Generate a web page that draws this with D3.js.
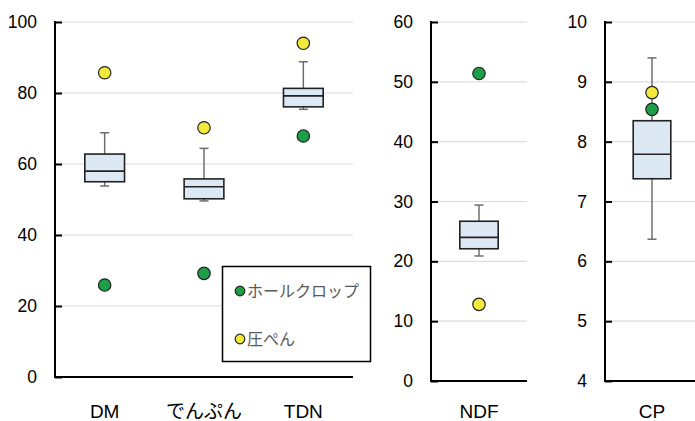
<!DOCTYPE html>
<html><head><meta charset="utf-8">
<script src="https://cdn.jsdelivr.net/npm/d3@7"></script>
<style>
html,body{margin:0;padding:0;background:#fff;}
text{font-family:"Liberation Sans",Arial,"Noto Sans CJK JP",sans-serif;}
</style></head>
<body>
<svg id="c" width="695" height="421"></svg>
<script>
// ---- data ----
const categories   = ["DM", "でんぷん", "TDN", "NDF", "CP"];
const whiskerLow   = [53.8, 49.6, 75.4, 20.9, 6.37];
const q1           = [55.0, 50.2, 76.1, 22.1, 7.38];
const median       = [58.0, 53.6, 79.2, 24.0, 7.79];
const q3           = [62.8, 55.8, 81.3, 26.7, 8.35];
const whiskerHigh  = [68.8, 64.4, 88.8, 29.4, 9.40];
const wholeCrop    = [25.9, 29.2, 67.9, 51.4, 8.54];
const atsupen      = [85.7, 70.2, 94.0, 12.8, 8.82];
const seriesNames  = ["ホールクロップ", "圧ぺん"];
const panelCats    = [["DM", "でんぷん", "TDN"], ["NDF"], ["CP"]];
const panelTicks   = [[0, 20, 40, 60, 80, 100], [0, 10, 20, 30, 40, 50, 60], [4, 5, 6, 7, 8, 9, 10]];

// ---- layout ----
const svg = d3.select("#c");
const panelLayout = [
  {x0: 55, x1: 353, yb: 377, yt: 22},
  {x0: 431, x1: 527, yb: 381, yt: 22},
  {x0: 605, x1: 699, yb: 381, yt: 22}
];
const green = "#1d9e48", yellow = "#f3e93b";

panelCats.forEach((cats, p) => {
  const L = panelLayout[p];
  const ticks = panelTicks[p];
  const x = d3.scaleBand().domain(cats).range([L.x0, L.x1]);
  const y = d3.scaleLinear().domain([ticks[0], ticks[ticks.length - 1]]).range([L.yb, L.yt]);
  const g = svg.append("g");

  // gridlines
  g.append("g").selectAll("line").data(ticks.slice(1)).join("line")
    .attr("x1", L.x0).attr("x2", L.x1)
    .attr("y1", d => y(d)).attr("y2", d => y(d))
    .attr("stroke", "#dcdcdc").attr("stroke-width", 1.2);

  // y axis (inward ticks)
  const ya = g.append("g").attr("transform", `translate(${L.x0},0)`)
    .call(d3.axisRight(y).tickValues(ticks).tickSize(7).tickFormat(d3.format("d")));
  ya.select(".domain").remove();
  ya.selectAll(".tick line").attr("stroke", "#000").attr("stroke-width", 2);
  ya.selectAll(".tick text").attr("x", -18).attr("text-anchor", "end")
    .attr("font-size", 17.5).attr("fill", "#000").attr("font-family", null);

  // axis lines
  g.append("path")
    .attr("d", `M${L.x0},${L.yt - 1}V${L.yb}H${L.x1}`)
    .attr("fill", "none").attr("stroke", "#000").attr("stroke-width", 2);

  // category labels
  g.append("g").selectAll("text").data(cats).join("text")
    .attr("x", d => x(d) + x.bandwidth() / 2).attr("y", 418)
    .attr("text-anchor", "middle").attr("font-size", 19).attr("fill", "#000")
    .text(d => d);

  // boxes
  const bw = x.bandwidth() * 0.4;
  cats.forEach(c => {
    const i = categories.indexOf(c);
    const cx = x(c) + x.bandwidth() / 2;
    const bg = g.append("g");
    bg.append("line").attr("x1", cx).attr("x2", cx)
      .attr("y1", y(whiskerHigh[i])).attr("y2", y(q3[i]))
      .attr("stroke", "#6e6e6e").attr("stroke-width", 1.5);
    bg.append("line").attr("x1", cx).attr("x2", cx)
      .attr("y1", y(q1[i])).attr("y2", y(whiskerLow[i]))
      .attr("stroke", "#6e6e6e").attr("stroke-width", 1.5);
    [whiskerHigh[i], whiskerLow[i]].forEach(v => {
      bg.append("line").attr("x1", cx - 4.5).attr("x2", cx + 4.5)
        .attr("y1", y(v)).attr("y2", y(v))
        .attr("stroke", "#6e6e6e").attr("stroke-width", 1.5);
    });
    bg.append("rect").attr("x", cx - bw / 2).attr("width", bw)
      .attr("y", y(q3[i])).attr("height", y(q1[i]) - y(q3[i]))
      .attr("fill", "#dde8f5").attr("stroke", "#222").attr("stroke-width", 1.6);
    bg.append("line").attr("x1", cx - bw / 2).attr("x2", cx + bw / 2)
      .attr("y1", y(median[i])).attr("y2", y(median[i]))
      .attr("stroke", "#222").attr("stroke-width", 1.6);
    bg.append("circle").attr("cx", cx).attr("cy", y(wholeCrop[i])).attr("r", 6.2)
      .attr("fill", green).attr("stroke", "#222").attr("stroke-width", 1.2);
    bg.append("circle").attr("cx", cx).attr("cy", y(atsupen[i])).attr("r", 6.2)
      .attr("fill", yellow).attr("stroke", "#222").attr("stroke-width", 1.2);
  });
});

// legend
const lg = svg.append("g");
lg.append("rect").attr("x", 222.5).attr("y", 266.5).attr("width", 148).attr("height", 95)
  .attr("fill", "#fff").attr("stroke", "#000").attr("stroke-width", 1.5);
const legendColors = [green, yellow];
seriesNames.forEach((n, k) => {
  const cy = 291 + k * 48;
  lg.append("circle").attr("cx", 240).attr("cy", cy).attr("r", 4.8)
    .attr("fill", legendColors[k]).attr("stroke", "#222").attr("stroke-width", 1.2);
  lg.append("text").attr("x", 247).attr("y", cy + 6).attr("font-size", 16)
    .attr("fill", "#595959").text(n);
});
</script>
</body></html>
